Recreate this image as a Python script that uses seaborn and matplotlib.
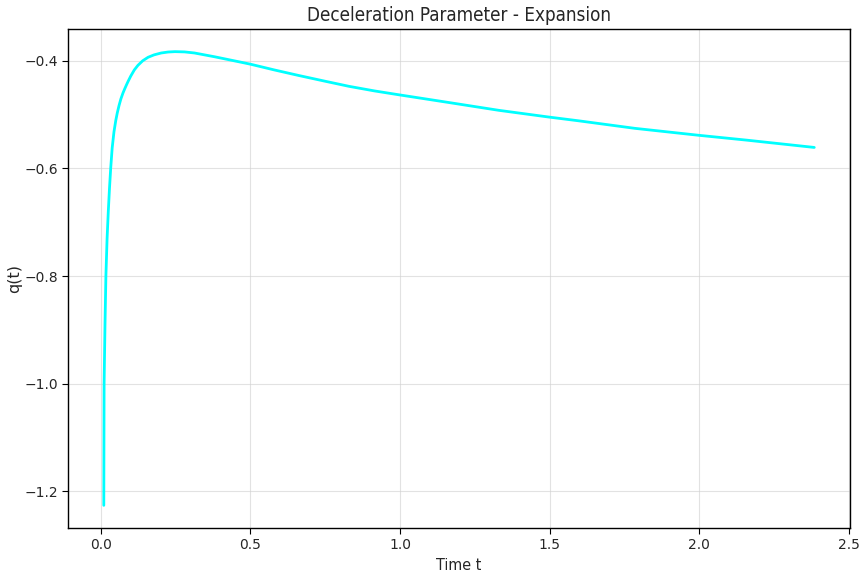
import matplotlib
matplotlib.use("Agg")
import matplotlib.pyplot as plt
import seaborn as sns
import pandas as pd

t_values = [0.010, 0.011, 0.014, 0.017, 0.021, 0.025, 0.029, 0.033, 0.038, 0.044,
            0.050, 0.055, 0.061, 0.067, 0.074, 0.080, 0.086, 0.091, 0.100, 0.112,
            0.124, 0.140, 0.158, 0.178, 0.202, 0.225, 0.248, 0.280, 0.313, 0.380,
            0.463, 0.500, 0.580, 0.663, 0.750, 0.830, 0.915, 1.000, 1.163, 1.330,
            1.497, 1.597, 1.785, 2.000, 2.160, 2.385]
q_values = [-1.226, -1.000, -0.890, -0.800, -0.730, -0.680, -0.637, -0.600, -0.562, -0.532,
            -0.511, -0.497, -0.483, -0.471, -0.460, -0.452, -0.4445, -0.4385, -0.4285, -0.417,
            -0.4085, -0.4000, -0.3935, -0.3890, -0.3855, -0.3837, -0.3830, -0.3835, -0.3855, -0.3925,
            -0.4020, -0.4063, -0.4170, -0.4275, -0.4380, -0.4475, -0.4560, -0.4635, -0.4775, -0.4920,
            -0.5045, -0.5115, -0.5255, -0.5385, -0.5475, -0.5610]

title = "Deceleration Parameter - Expansion"
xlabel = "Time t"
ylabel = "q(t)"
xticks = [0.0, 0.5, 1.0, 1.5, 2.0, 2.5]
yticks = [-1.2, -1.0, -0.8, -0.6, -0.4]

df = pd.DataFrame({"t": t_values, "q": q_values})

sns.set_style("ticks")
plt.rcParams['font.family'] = ['DejaVu Sans']

fig, ax = plt.subplots(figsize=(8.61, 5.79), dpi=100)
fig.subplots_adjust(left=0.0793, right=0.987, top=0.95, bottom=0.088)

sns.lineplot(data=df, x="t", y="q", ax=ax, color="#00FFFF", linewidth=2.0)

ax.grid(True, color="#d0d0d0", alpha=0.6, linewidth=0.8)
ax.set_xticks(xticks)
ax.set_yticks(yticks)
ax.set_title(title, fontsize=13.5, fontstretch='condensed')
ax.set_xlabel(xlabel, fontsize=11.5, fontstretch='condensed')
ax.set_ylabel(ylabel, fontsize=11.5, labelpad=1.5)
ax.tick_params(labelsize=10, color="black", length=4)
for s in ax.spines.values():
    s.set_color("black")
    s.set_linewidth(1.0)

fig.savefig("out.png", dpi=100)
